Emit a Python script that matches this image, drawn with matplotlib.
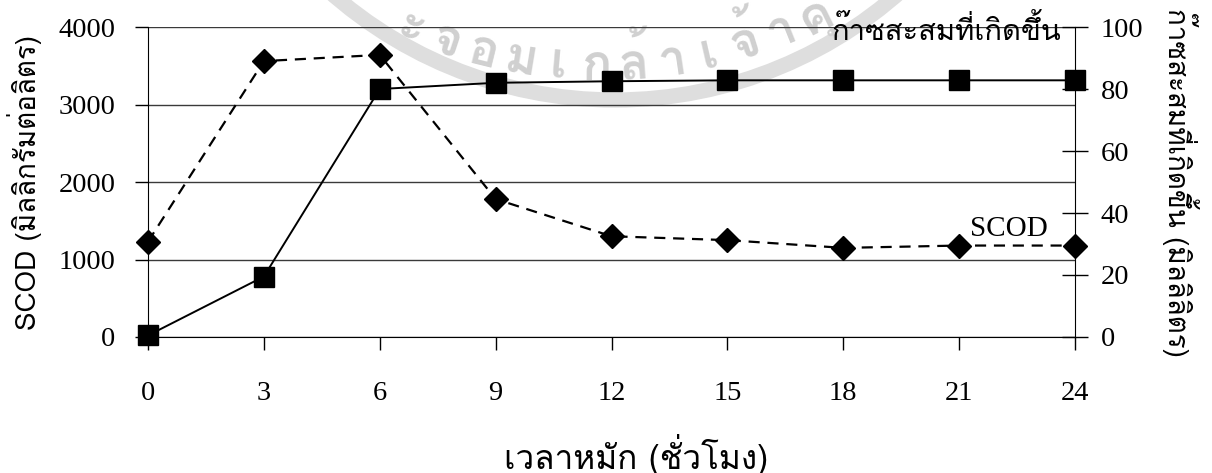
import numpy as np
import matplotlib
matplotlib.use('Agg')
import matplotlib.pyplot as plt
from matplotlib.patches import Arc

hours = [0, 3, 6, 9, 12, 15, 18, 21, 24]
scod = [1230, 3560, 3640, 1780, 1300, 1250, 1150, 1180, 1180]
gas = [0.5, 19.5, 80, 82, 82.5, 82.8, 82.8, 82.8, 82.8]

# watermark (seal) text pieces, left to right along the arc
seal_chars = ['ะ', 'จ', 'อ', 'ม', 'เ', 'ก', 'ล้', 'า', 'เ', 'จ้', 'า', 'คุ']

num_font = ['Liberation Serif']
thai_font = ['Loma', 'Liberation Sans']

fig = plt.figure(figsize=(12.12, 4.73), dpi=100)

# background axes in pixel units for the faint seal watermark
bg = fig.add_axes([0, 0, 1, 1], zorder=-5)
bg.set_xlim(0, 1212)
bg.set_ylim(473, 0)
bg.axis('off')
bg.add_patch(Arc((615, -330), 860, 860, theta1=0, theta2=180, color='#dedede', lw=11))
tcx, tcy, tr = 600, -420, 500
step = np.degrees(39 / tr)
for i, ch in enumerate(seal_chars):
    phi = np.radians(-22.8 + i * step)
    px = tcx + tr * np.sin(phi)
    py = tcy + tr * np.cos(phi)
    bg.text(px, py, ch, family=thai_font, fontsize=36, fontweight='bold', color='#d0d0d0',
            rotation=np.degrees(phi), rotation_mode='anchor', ha='center', va='baseline')

ax = fig.add_axes([148 / 1212, 1 - 337 / 473, (1075 - 148) / 1212, (337 - 27) / 473])
ax2 = ax.twinx()

ax.plot(hours, scod, color='black', lw=1.6, ls=(0, (5, 3.5)), marker='D', ms=12,
        clip_on=False, zorder=3)
ax2.plot(hours, gas, color='black', lw=1.4, marker='s', ms=14, clip_on=False, zorder=3)

ax.set_xlim(0, 24)
ax.set_ylim(0, 4000)
ax2.set_ylim(0, 100)
ax.set_xticks(hours)
ax.set_yticks([0, 1000, 2000, 3000, 4000])
ax2.set_yticks([0, 20, 40, 60, 80, 100])

ax.yaxis.grid(True, color='#3a3a3a', lw=1.0)
ax.set_axisbelow(True)

for a in (ax, ax2):
    a.spines['top'].set_visible(False)
    a.patch.set_visible(False)
ax2.spines['left'].set_visible(False)
ax2.spines['bottom'].set_visible(False)
ax.spines['right'].set_visible(False)

ax.tick_params(axis='x', direction='out', length=9.5, width=1, pad=22, labelsize=20.5)
ax.tick_params(axis='y', direction='out', length=9.5, width=1, pad=14, labelsize=20.5)
ax2.tick_params(axis='y', direction='inout', length=19, width=1, pad=9, labelsize=20.5)
for lbl in ax.get_xticklabels() + ax.get_yticklabels() + ax2.get_yticklabels():
    lbl.set_family(num_font)

ax.set_xlabel('เวลาหมัก (ชั่วโมง)', family=thai_font, fontsize=24, labelpad=20)
ax.xaxis.label.set_x(12.63 / 24)
ax.set_ylabel('SCOD (มิลลิกรัมต่อลิตร)', family=thai_font, fontsize=20, labelpad=12)
ax2.set_ylabel('ก๊าซสะสมที่เกิดขึ้น (มิลลิลิตร)', family=thai_font, fontsize=20,
               rotation=-90, labelpad=40)

ax.text(20.66, 3830, 'ก๊าซสะสมที่เกิดขึ้น', family=thai_font, fontsize=21,
        ha='center', va='baseline')
ax.text(22.3, 1400, 'SCOD', family=num_font, fontsize=21, ha='center', va='center')

fig.savefig('out.png', dpi=100)
